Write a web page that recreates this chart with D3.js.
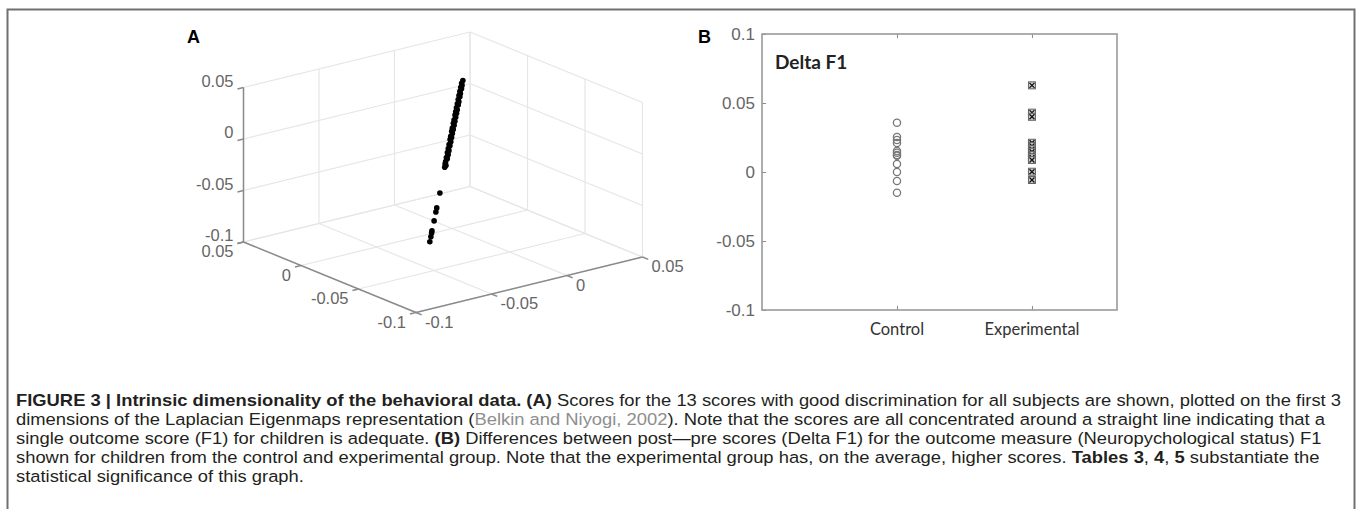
<!DOCTYPE html>
<html>
<head>
<meta charset="utf-8">
<script src="https://cdn.jsdelivr.net/npm/d3@7"></script>
<style>
  body { margin: 0; background: #fff; }
  svg { display: block; }
</style>
</head>
<body>
<svg width="1357" height="509"></svg>
<script>
// Panel A: subjects on the first 3 Laplacian eigenmap dimensions
const eig1 = [0, -0.0008, -0.0015, -0.002, -0.0025, -0.0032, -0.004, -0.0045, -0.005, -0.0058,
  -0.0065, -0.007, -0.0075, -0.0082, -0.009, -0.0095, -0.01, -0.0105, -0.0112, -0.012,
  -0.0125, -0.013, -0.0138, -0.0145, -0.015, -0.0155, -0.0162, -0.017, -0.0175, -0.018,
  -0.0188, -0.0195, -0.02, -0.0208, -0.0215, -0.022, -0.0228, -0.0235, -0.024, -0.0248,
  -0.0255, -0.026, -0.0265, -0.0345, -0.039, -0.0402, -0.043, -0.046, -0.0466, -0.0478, -0.0494];
const eig2 = [0.0072, 0.0058, 0.0055, 0.0043, 0.0044, 0.0028, 0.0025, 0.0012, 0.0014, -0.0003,
  -0.0004, -0.0018, -0.0016, -0.0033, -0.0034, -0.0048, -0.0046, -0.006, -0.0061, -0.0078,
  -0.0076, -0.009, -0.0091, -0.0108, -0.0106, -0.012, -0.0121, -0.0138, -0.0136, -0.015,
  -0.0151, -0.0168, -0.0166, -0.0183, -0.0184, -0.0198, -0.0199, -0.0216, -0.0214, -0.0231,
  -0.024, -0.0238, -0.025, -0.0343, -0.0398, -0.0413, -0.0446, -0.0483, -0.049, -0.0504, -0.0523];
const eig3 = [0.041, 0.0393, 0.0376, 0.0364, 0.0353, 0.0336, 0.0319, 0.0307, 0.0296, 0.0279,
  0.0262, 0.025, 0.0239, 0.0222, 0.0205, 0.0193, 0.0182, 0.0171, 0.0154, 0.0136,
  0.0125, 0.0114, 0.0097, 0.0079, 0.0068, 0.0057, 0.004, 0.0022, 0.0011, 0,
  -0.0018, -0.0035, -0.0046, -0.0063, -0.008, -0.0092, -0.0109, -0.0126, -0.0137, -0.0154,
  -0.0171, -0.0183, -0.0194, -0.0375, -0.0479, -0.0508, -0.057, -0.064, -0.0654, -0.0681, -0.0716];
const ticks3d = [-0.1, -0.05, 0, 0.05];

// Panel B: Delta F1 per group
const groups = ['Control', 'Experimental'];
const controlDelta = [0.0357, 0.0254, 0.0232, 0.021, 0.0152, 0.014, 0.0123, 0.0118, 0.0058, 0, -0.0065, -0.015];
const experimentalDelta = [0.0628, 0.043, 0.04, 0.0212, 0.0188, 0.0165, 0.0147, 0.0123, 0.0106, 0.0087, 0.0002, -0.0058];
const yTicksB = [-0.1, -0.05, 0, 0.05, 0.1];

const svg = d3.select('svg');
const tickFont = 'Liberation Sans, Arial, sans-serif';
const tickColor = '#666';

// figure frame
svg.append('path')
    .attr('d', 'M7.5,509 V9.5 H1354.5 V509')
    .style('fill', 'none')
    .style('stroke', '#707070')
    .style('stroke-width', 2);

// ---------- panel A ----------
const stepL = d3.scaleLinear().domain([-0.1, 0.05]).range([0, 3]);
const stepR = d3.scaleLinear().domain([-0.1, 0.05]).range([0, 3]);
const stepZ = d3.scaleLinear().domain([-0.1, 0.05]).range([0, 3]);
const origin = [416, 312.5];
const vL = [-57.5, -23.5];
const vR = [75.5, -18.5];
const vZ = [0, -51.5];

function proj(l, r, z) {
  const a = stepL(l), b = stepR(r), c = stepZ(z);
  return [origin[0] + a * vL[0] + b * vR[0] + c * vZ[0],
          origin[1] + a * vL[1] + b * vR[1] + c * vZ[1]];
}

const gA = svg.append('g');
const seg = d3.line();
const lo = -0.1, hi = 0.05;
const gridSegs = [];
ticks3d.forEach(t => {
  // floor
  gridSegs.push([proj(t, lo, lo), proj(t, hi, lo)]);
  gridSegs.push([proj(lo, t, lo), proj(hi, t, lo)]);
  // back-left wall
  gridSegs.push([proj(hi, t, lo), proj(hi, t, hi)]);
  gridSegs.push([proj(hi, lo, t), proj(hi, hi, t)]);
  // back-right wall
  gridSegs.push([proj(t, hi, lo), proj(t, hi, hi)]);
  gridSegs.push([proj(lo, hi, t), proj(hi, hi, t)]);
});
gA.selectAll('path.grid')
    .data(gridSegs)
    .enter()
    .append('path')
    .attr('class', 'grid')
    .attr('d', seg)
    .style('fill', 'none')
    .style('stroke', '#e6e6e6')
    .style('stroke-width', 1.2);

// axis lines
const axisSegs = [
  [proj(hi, lo, lo), proj(hi, lo, hi)],
  [proj(hi, lo, lo), proj(lo, lo, lo)],
  [proj(lo, lo, lo), proj(lo, hi, lo)]
];
gA.selectAll('path.axis')
    .data(axisSegs)
    .enter()
    .append('path')
    .attr('class', 'axis')
    .attr('d', seg)
    .style('fill', 'none')
    .style('stroke', '#8a8a8a')
    .style('stroke-width', 1.5);

// ticks
const tickSegs = [];
ticks3d.forEach(t => {
  tickSegs.push([proj(hi, lo, t), proj(hi, lo - 0.004, t)]);
  tickSegs.push([proj(t, lo, lo), proj(t, lo - 0.004, lo)]);
  tickSegs.push([proj(lo, t, lo), proj(lo - 0.005, t, lo)]);
});
gA.selectAll('path.tick')
    .data(tickSegs)
    .enter()
    .append('path')
    .attr('class', 'tick')
    .attr('d', seg)
    .style('stroke', '#8a8a8a')
    .style('stroke-width', 1.5);

function fmt(v) { return String(v); }
function addLabel(p, dx, dy, anchor, txt) {
  gA.append('text')
      .attr('x', p[0] + dx)
      .attr('y', p[1] + dy)
      .attr('text-anchor', anchor)
      .attr('dominant-baseline', 'middle')
      .style('font-family', tickFont)
      .style('font-size', '16.5px')
      .style('fill', tickColor)
      .text(txt);
}
ticks3d.forEach(t => {
  addLabel(proj(hi, lo, t), -10, -5, 'end', fmt(t));
  addLabel(proj(t, lo, lo), -10, 11, 'end', fmt(t));
  addLabel(proj(lo, t, lo), 9, 11, 'start', fmt(t));
});

// data points
gA.selectAll('circle.subj')
    .data(eig1.map((d, i) => [d, eig2[i], eig3[i]]))
    .enter()
    .append('circle')
    .attr('class', 'subj')
    .attr('cx', d => proj(d[0], d[1], d[2])[0])
    .attr('cy', d => proj(d[0], d[1], d[2])[1])
    .attr('r', 2.8)
    .style('fill', '#000');

svg.append('text')
    .attr('x', 187)
    .attr('y', 43)
    .style('font-family', tickFont)
    .style('font-weight', 'bold')
    .style('font-size', '18px')
    .text('A');

// ---------- panel B ----------
const xScale = d3.scaleLinear().domain([0, 2.63]).range([762, 1117]);
const yScale = d3.scaleLinear().domain([-0.1, 0.1]).range([310, 34]);
const gB = svg.append('g');

const yAxis = d3.axisLeft(yScale)
    .tickValues(yTicksB)
    .tickFormat(fmt)
    .tickSize(-4)
    .tickPadding(7);
gB.append('g')
    .attr('transform', 'translate(762, 0)')
    .call(yAxis)
    .call(g => g.select('.domain').remove())
    .call(g => g.selectAll('line').style('stroke', '#8a8a8a'))
    .call(g => g.selectAll('text')
        .style('font-family', tickFont)
        .style('font-size', '17px')
        .style('fill', tickColor));

['top', 'bottom'].forEach(side => {
  const ax = side === 'top' ? d3.axisTop(xScale) : d3.axisBottom(xScale);
  ax.tickValues([1, 2]).tickSize(-4).tickFormat('');
  gB.append('g')
      .attr('transform', `translate(0, ${side === 'top' ? 34 : 310})`)
      .call(ax)
      .call(g => g.select('.domain').remove())
      .call(g => g.selectAll('line').style('stroke', '#8a8a8a'));
});

gB.append('rect')
    .attr('x', xScale(0))
    .attr('y', yScale(0.1))
    .attr('width', xScale(2.63) - xScale(0))
    .attr('height', yScale(-0.1) - yScale(0.1))
    .style('fill', 'none')
    .style('stroke', '#9a9a9a')
    .style('stroke-width', 1.6);

gB.selectAll('text.cat')
    .data(groups)
    .enter()
    .append('text')
    .attr('class', 'cat')
    .attr('x', (d, i) => xScale(i + 1))
    .attr('y', 335)
    .attr('text-anchor', 'middle')
    .style('font-family', 'Lato, Carlito, sans-serif')
    .style('font-size', '16.5px')
    .style('fill', '#333')
    .text(d => d);

gB.selectAll('circle.ctrl')
    .data(controlDelta)
    .enter()
    .append('circle')
    .attr('class', 'ctrl')
    .attr('cx', xScale(1))
    .attr('cy', d => yScale(d))
    .attr('r', 3.6)
    .style('fill', 'none')
    .style('stroke', '#777')
    .style('stroke-width', 1.3);

const expG = gB.selectAll('g.exp')
    .data(experimentalDelta)
    .enter()
    .append('g')
    .attr('class', 'exp')
    .attr('transform', d => `translate(${xScale(2)}, ${yScale(d)})`);
expG.append('rect')
    .attr('x', -3.5)
    .attr('y', -3.5)
    .attr('width', 7)
    .attr('height', 7)
    .style('fill', '#cfcfcf')
    .style('stroke', '#666')
    .style('stroke-width', 1);
expG.append('path')
    .attr('d', 'M-2.5,-2.5L2.5,2.5M-2.5,2.5L2.5,-2.5')
    .style('stroke', '#111')
    .style('stroke-width', 1.3);

gB.append('text')
    .attr('x', 775)
    .attr('y', 69)
    .style('font-family', 'Lato, Carlito, sans-serif')
    .style('font-weight', 'bold')
    .style('font-size', '19px')
    .style('fill', '#222')
    .text('Delta F1');

svg.append('text')
    .attr('x', 698)
    .attr('y', 43)
    .style('font-family', tickFont)
    .style('font-weight', 'bold')
    .style('font-size', '18px')
    .text('B');

// ---------- caption ----------
const captionLines = [
  [['FIGURE 3 | Intrinsic dimensionality of the behavioral data. (A)', 'b'],
   [' Scores for the 13 scores with good discrimination for all subjects are shown, plotted on the first 3', 'n']],
  [['dimensions of the Laplacian Eigenmaps representation (', 'n'], ['Belkin and Niyogi, 2002', 'g'],
   ['). Note that the scores are all concentrated around a straight line indicating that a', 'n']],
  [['single outcome score (F1) for children is adequate. ', 'n'], ['(B)', 'b'],
   [' Differences between post\u2014pre scores (Delta F1) for the outcome measure (Neuropychological status) F1', 'n']],
  [['shown for children from the control and experimental group. Note that the experimental group has, on the average, higher scores. ', 'n'],
   ['Tables 3', 'b'], [', ', 'n'], ['4', 'b'], [', ', 'n'], ['5', 'b'], [' substantiate the', 'n']],
  [['statistical significance of this graph.', 'n']]
];
const capY = [401, 420, 439, 458, 477];
const cap = svg.append('g')
    .style('font-family', '"Liberation Sans", Arial, sans-serif')
    .style('font-size', '16.5px')
    .style('fill', '#231f20');
const capTexts = cap.selectAll('text')
    .data(captionLines)
    .enter()
    .append('text')
    .attr('x', 0)
    .attr('y', 0)
    .attr('dominant-baseline', 'middle');
capTexts.selectAll('tspan')
    .data(d => d)
    .enter()
    .append('tspan')
    .style('font-weight', d => d[1] === 'b' ? 'bold' : 'normal')
    .style('fill', d => d[1] === 'g' ? '#8e8e8e' : null)
    .text(d => d[0]);

// condense the caption so the first line spans the same width as the reference
const sx = 1326 / capTexts.node().getComputedTextLength();
capTexts.attr('transform', (d, i) => `translate(16, ${capY[i]}) scale(${sx}, 1)`);
</script>
</body>
</html>
